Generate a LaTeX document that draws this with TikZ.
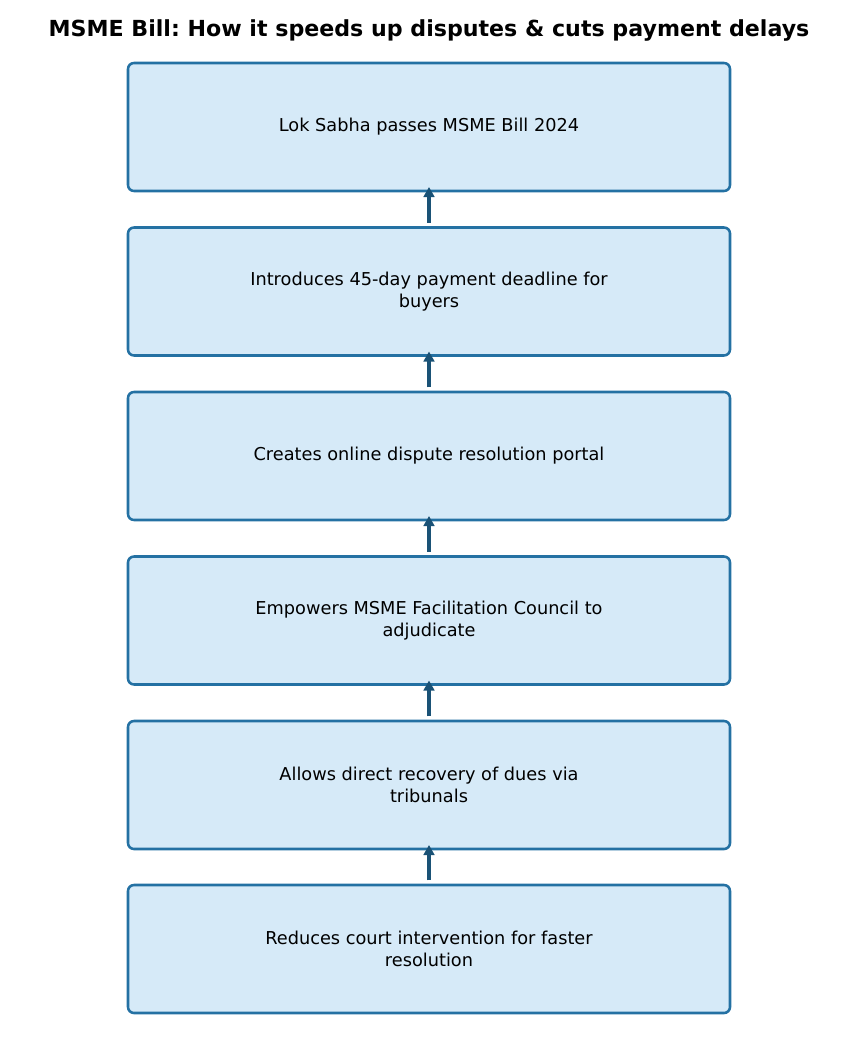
\documentclass[tikz,border=0pt]{standalone}
\usepackage{fontspec}
\setmainfont{DejaVu Sans}
\usetikzlibrary{arrows.meta}
\definecolor{boxfill}{HTML}{D6EAF8}
\definecolor{boxline}{HTML}{2471A3}
\definecolor{arrcol}{HTML}{1A5276}
\begin{document}
\frenchspacing
\begin{tikzpicture}[x=0.75pt,y=-0.75pt,
  stepbox/.style={draw=boxline,fill=boxfill,line width=1.9pt,rounded corners=4.5pt,
    minimum width=451.5pt,minimum height=96pt,inner sep=0pt,outer sep=0pt,
    align=center,font=\fontsize{13.3}{16.5}\selectfont},
  arr/.style={draw=arrcol,line width=2.3pt,-{Triangle[length=7.5pt,width=8pt]}}]
\useasboundingbox (0,0) rectangle (858,1053);
\node[font=\bfseries\fontsize{16.6}{18}\selectfont] (title) at (429,30) {MSME Bill: How it speeds up disputes \& cuts payment delays};
\node[stepbox] (b1) at (429,127) {Lok Sabha passes MSME Bill 2024};
\node[stepbox] (b2) at (429,291.5) {Introduces 45-day payment deadline for\\buyers};
\node[stepbox] (b3) at (429,456) {Creates online dispute resolution portal};
\node[stepbox] (b4) at (429,620.5) {Empowers MSME Facilitation Council to\\adjudicate};
\node[stepbox] (b5) at (429,785) {Allows direct recovery of dues via\\tribunals};
\node[stepbox] (b6) at (429,949) {Reduces court intervention for faster\\resolution};
\foreach \lo/\hi in {b2/b1,b3/b2,b4/b3,b5/b4,b6/b5}{
  \draw[arr] ([yshift=3.4pt]\lo.north) -- ([yshift=3pt]\hi.south);
}
\end{tikzpicture}
\end{document}
